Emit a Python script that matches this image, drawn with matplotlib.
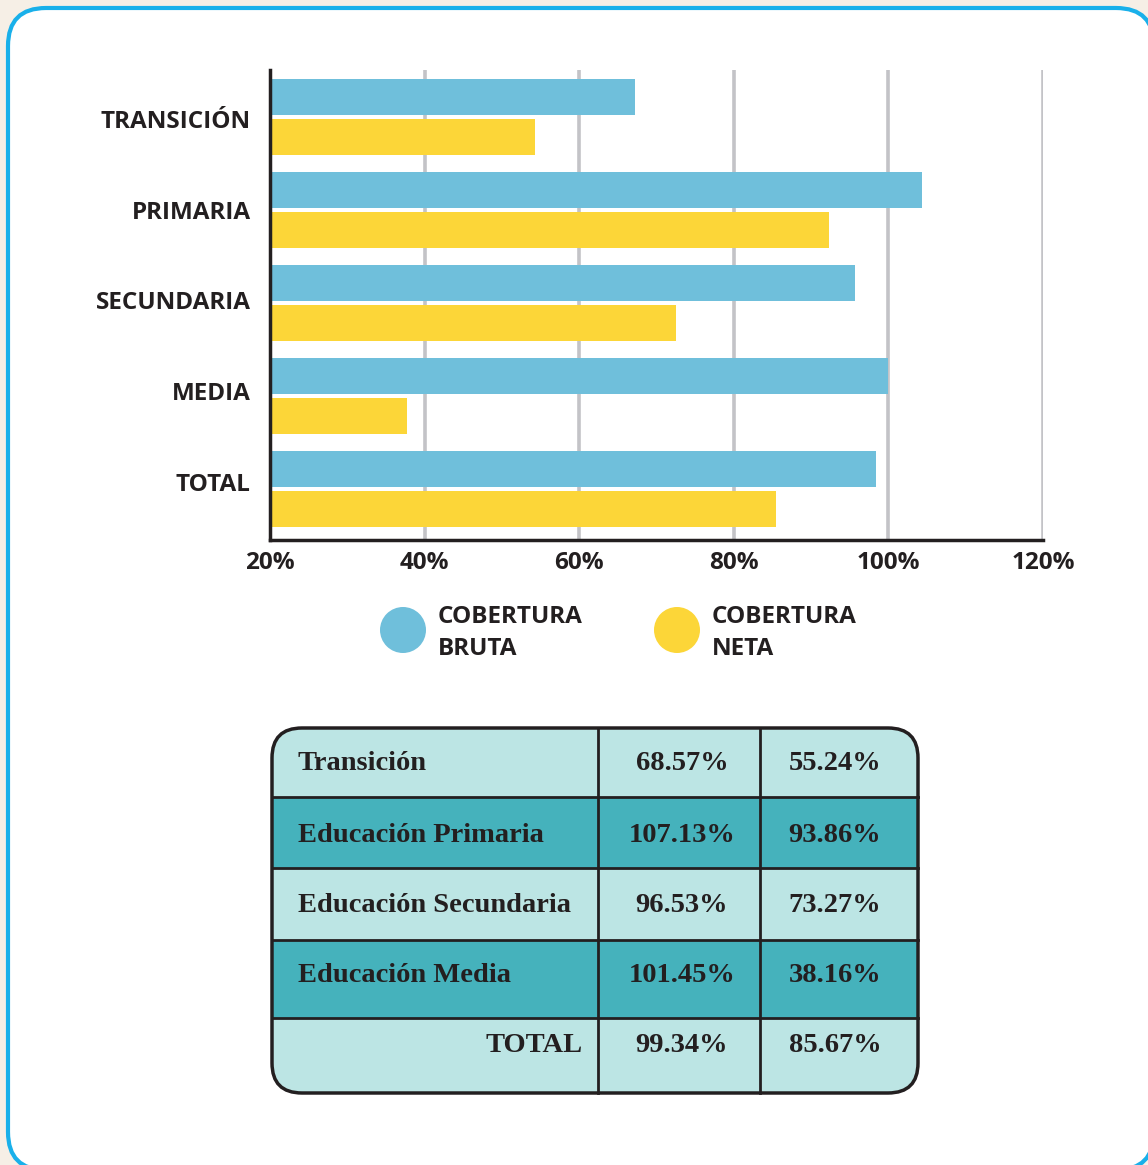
"""Cobertura bruta vs neta por nivel educativo: barras horizontales + tabla resumen."""

import matplotlib
matplotlib.use("Agg")
import matplotlib.pyplot as plt
from matplotlib.patches import FancyBboxPatch, Rectangle, Circle
import numpy as np

# ---- data ----
categories = ["TRANSICIÓN", "PRIMARIA", "SECUNDARIA", "MEDIA", "TOTAL"]
# bar lengths as drawn in the chart (%)
bruta = [67.2, 104.3, 95.7, 99.9, 98.4]
neta = [54.3, 92.3, 72.5, 37.7, 85.5]
xticks = [20, 40, 60, 80, 100, 120]
legend_labels = ["COBERTURA\nBRUTA", "COBERTURA\nNETA"]

table_rows = ["Transición", "Educación Primaria", "Educación Secundaria",
              "Educación Media", "TOTAL"]
table_bruta = ["68.57%", "107.13%", "96.53%", "101.45%", "99.34%"]
table_neta = ["55.24%", "93.86%", "73.27%", "38.16%", "85.67%"]

# ---- style ----
C_BRUTA = "#6fbfdb"
C_NETA = "#fcd638"
C_TXT = "#231f20"
C_LIGHT = "#bce5e4"
C_DARK = "#45b2bc"
SANS = ["Open Sans", "DejaVu Sans"]
SERIF = ["Liberation Serif", "DejaVu Serif"]

W, H = 1148, 1165
fig = plt.figure(figsize=(W / 100, H / 100), dpi=100)
fig.patch.set_facecolor("#f6efe6")

# background axes in pixel coordinates (y down)
bg = fig.add_axes([0, 0, 1, 1])
bg.set_xlim(0, W)
bg.set_ylim(H, 0)
bg.axis("off")
bg.add_patch(FancyBboxPatch((8, 8), 1146, 1162, boxstyle="round,pad=0,rounding_size=38",
                            facecolor="white", edgecolor="#19b0ea", lw=3))

# ---- bar chart ----
ax_l, ax_r, ax_t, ax_b = 270, 1043, 70, 540
ax = fig.add_axes([ax_l / W, 1 - ax_b / H, (ax_r - ax_l) / W, (ax_b - ax_t) / H])
ax.patch.set_alpha(0)
y = np.arange(len(categories))
bh = 0.39
off = 0.215
ax.barh(y - off, bruta, height=bh, left=0, color=C_BRUTA, zorder=2)
ax.barh(y + off, neta, height=bh, left=0, color=C_NETA, zorder=2)
ax.set_xlim(20, 120)
ax.set_ylim(4.55, -0.505)
ax.set_xticks(xticks)
ax.set_xticklabels([f"{t}%" for t in xticks], family=SANS, fontweight="bold",
                   fontsize=17.5, color=C_TXT)
# labels sit a touch above the group centre in the original, more so lower down
ax.set_yticks(y + (2 - 2.25 * y) / 93)
ax.set_yticklabels(categories, family=SANS, fontweight="bold", fontsize=17.5, color=C_TXT)
ax.tick_params(axis="both", length=0)
ax.tick_params(axis="x", pad=8)
ax.tick_params(axis="y", pad=14)
for t in xticks[1:]:
    ax.axvline(t, color="#c3c3c7", lw=2.6, zorder=1)
for s in ("top", "right"):
    ax.spines[s].set_visible(False)
for s in ("left", "bottom"):
    ax.spines[s].set_color(C_TXT)
    ax.spines[s].set_linewidth(2.5)
    ax.spines[s].set_zorder(4)

# ---- legend ----
for cx, col, lab in zip([403, 677], [C_BRUTA, C_NETA], legend_labels):
    bg.add_patch(Circle((cx, 630), 23, facecolor=col, edgecolor="none"))
    bg.text(cx + 35, 633, lab, family=SANS, fontweight="bold", fontsize=17.5,
            color=C_TXT, va="center", ha="left", linespacing=1.4)

# ---- table ----
tx0, tx1 = 272, 918
col_edges = [272, 598, 760, 918]
row_edges = [728, 797, 868, 940, 1018, 1093]
text_y = [764, 835, 905, 976, 1046]
frame = FancyBboxPatch((tx0, row_edges[0]), tx1 - tx0, row_edges[-1] - row_edges[0],
                       boxstyle="round,pad=0,rounding_size=30",
                       facecolor="none", edgecolor=C_TXT, lw=2.5, zorder=5)
bg.add_patch(frame)
for i in range(len(table_rows)):
    r = Rectangle((tx0, row_edges[i]), tx1 - tx0, row_edges[i + 1] - row_edges[i],
                  facecolor=C_DARK if i % 2 else C_LIGHT, edgecolor="none", zorder=2)
    bg.add_patch(r)
    r.set_clip_path(frame)
    if i > 0:
        bg.plot([tx0, tx1], [row_edges[i]] * 2, color=C_TXT, lw=2, zorder=4)
for cx in col_edges[1:-1]:
    bg.plot([cx, cx], [row_edges[0], row_edges[-1]], color=C_TXT, lw=2, zorder=4)

tkw = dict(family=SERIF, fontweight="bold", fontsize=20.5, color=C_TXT, va="center", zorder=6)
for i, name in enumerate(table_rows):
    if i == len(table_rows) - 1:
        bg.text(583, text_y[i], name, ha="right", **tkw)
    else:
        bg.text(298, text_y[i], name, ha="left", **tkw)
    bg.text(682, text_y[i], table_bruta[i], ha="center", **tkw)
    bg.text(835, text_y[i], table_neta[i], ha="center", **tkw)

fig.savefig("out.png", dpi=100, facecolor=fig.get_facecolor())
